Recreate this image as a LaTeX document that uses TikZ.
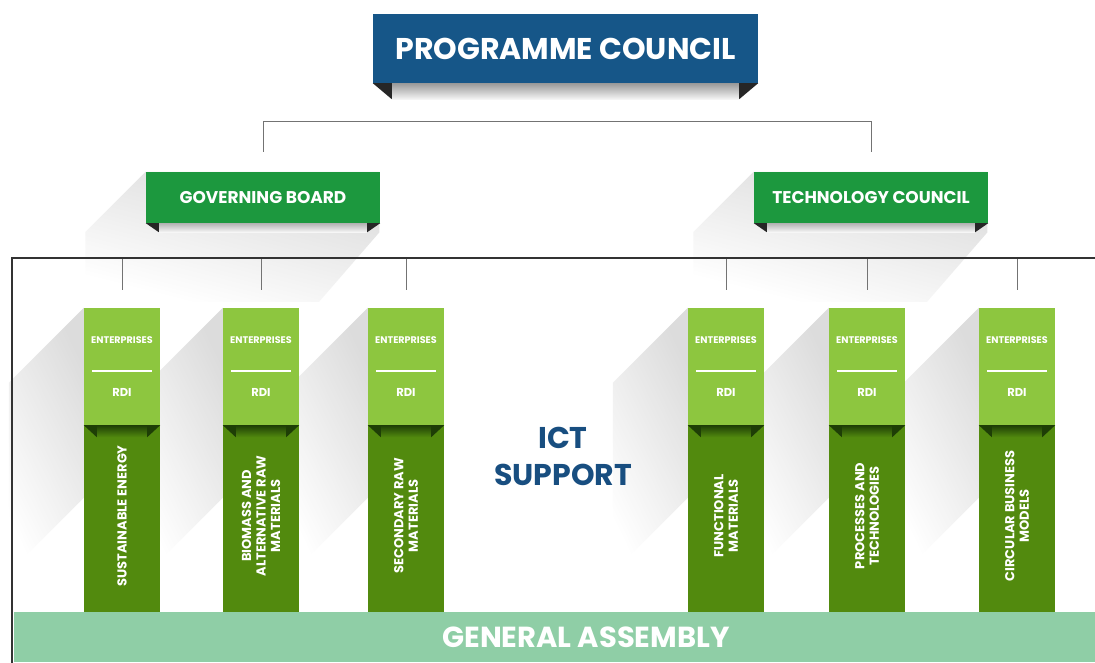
\documentclass[tikz,border=0pt]{standalone}
\usepackage{fontspec}
\setmainfont{Poppins}
\usetikzlibrary{positioning,fadings}
\pgfdeclarelayer{background}
\pgfsetlayers{background,main}
\definecolor{pcblue}{RGB}{22,86,136}
\definecolor{hdgreen}{RGB}{28,152,62}
\definecolor{entgreen}{RGB}{141,198,63}
\definecolor{fieldgreen}{RGB}{82,138,14}
\definecolor{foldgreen}{RGB}{30,62,6}
\definecolor{folddark}{RGB}{38,38,38}
\definecolor{bandgreen}{RGB}{143,206,166}
\definecolor{ictblue}{RGB}{24,78,128}
\tikzfading[name=shfade, top color=transparent!55, middle color=transparent!85, bottom color=transparent!100]

\begin{document}
\begin{tikzpicture}[x=1pt, y=-1pt,
  every node/.style={inner sep=0pt, text=white, font=\bfseries},
  council/.style={fill=pcblue, minimum width=385pt, minimum height=69pt, font=\bfseries\fontsize{30}{32}\selectfont},
  board/.style={fill=hdgreen, minimum width=234pt, minimum height=51pt, font=\bfseries\fontsize{17}{19}\selectfont},
  entbox/.style={fill=entgreen, minimum width=76pt, minimum height=117pt},
  fieldbox/.style={fill=fieldgreen, minimum width=76pt, minimum height=187pt},
  fieldtext/.style={rotate=90, align=center, font=\bfseries\fontsize{13}{14.5}\selectfont},
  enttext/.style={font=\bfseries\fontsize{9.6}{11}\selectfont},
  rditext/.style={font=\bfseries\fontsize{11.5}{12}\selectfont},
  link/.style={draw=black!55, line width=0.9pt},
  frameline/.style={draw=black!80, line width=1.3pt},
  shadowpart/.style={fill=black!30, path fading=shfade, fading angle=-30}]
  \useasboundingbox (0,0) rectangle (1095,662);

  % councils and boards
  \node [council] (pc) at (565.5,48.5) {PROGRAMME COUNCIL};
  \node [board] (gb) at (263,197.5) {GOVERNING BOARD};
  \node [board] (tc) at (871,197.5) {TECHNOLOGY COUNCIL};

  % general assembly
  \node [fill=bandgreen, minimum width=1081pt, minimum height=50pt] (ga) at (554.5,637) {};
  \node [font=\bfseries\fontsize{29}{31}\selectfont] (gatext) at (586,637) {GENERAL ASSEMBLY};

  % working groups
  \node [entbox] (e1) at (122,366.5) {};
  \node [fieldbox, below=0pt of e1] (f1) {};
  \node [entbox] (e2) at (261,366.5) {};
  \node [fieldbox, below=0pt of e2] (f2) {};
  \node [entbox] (e3) at (406,366.5) {};
  \node [fieldbox, below=0pt of e3] (f3) {};
  \node [entbox] (e4) at (726,366.5) {};
  \node [fieldbox, below=0pt of e4] (f4) {};
  \node [entbox] (e5) at (867,366.5) {};
  \node [fieldbox, below=0pt of e5] (f5) {};
  \node [entbox] (e6) at (1017,366.5) {};
  \node [fieldbox, below=0pt of e6] (f6) {};

  \node [fieldtext] at ([yshift=3pt]f1.center) {SUSTAINABLE ENERGY};
  \node [fieldtext] at ([yshift=3pt]f2.center) {BIOMASS AND\\ALTERNATIVE RAW\\MATERIALS};
  \node [fieldtext] at ([yshift=3pt]f3.center) {SECONDARY RAW\\MATERIALS};
  \node [fieldtext] at ([yshift=3pt]f4.center) {FUNCTIONAL\\MATERIALS};
  \node [fieldtext] at ([yshift=3pt]f5.center) {PROCESSES AND\\TECHNOLOGIES};
  \node [fieldtext] at ([yshift=3pt]f6.center) {CIRCULAR BUSINESS\\MODELS};

  \node [text=ictblue, align=center, font=\bfseries\fontsize{30}{37}\selectfont] (ict) at (563,456) {ICT\\SUPPORT};

  \foreach \i in {1,...,6} {
    \node [enttext] at ([yshift=-32pt]e\i.north) {ENTERPRISES};
    \draw [white, line width=1.8pt] ([xshift=8pt,yshift=-63pt]e\i.north west) -- ([xshift=-8pt,yshift=-63pt]e\i.north east);
    \node [rditext] at ([yshift=-85pt]e\i.north) {RDI};
    % ribbon fold
    \shade [top color=foldgreen, bottom color=fieldgreen] ([xshift=13pt]f\i.north west) rectangle ([xshift=-13pt,yshift=-12pt]f\i.north east);
    \fill [foldgreen] (f\i.north west) -- ++(13,0) -- ++(0,12) -- cycle;
    \fill [foldgreen] (f\i.north east) -- ++(-13,0) -- ++(0,12) -- cycle;
    \draw [link] ([yshift=18pt]e\i.north) -- ++(0,-32);
  }

  % folds under the headers
  \shade [top color=black!40, bottom color=black!4] ([xshift=19pt]pc.south west) rectangle ([xshift=-19pt,yshift=-16pt]pc.south east);
  \fill [folddark] (pc.south west) -- ++(19,0) -- ++(0,16) -- cycle;
  \fill [folddark] (pc.south east) -- ++(-19,0) -- ++(0,16) -- cycle;
  \foreach \b in {gb,tc} {
    \shade [top color=black!30, bottom color=black!3] ([xshift=13pt]\b.south west) rectangle ([xshift=-13pt,yshift=-9pt]\b.south east);
    \fill [folddark] (\b.south west) -- ++(13,0) -- ++(0,9) -- cycle;
    \fill [folddark] (\b.south east) -- ++(-13,0) -- ++(0,9) -- cycle;
  }

  % connectors and frame
  \draw [link] ([yshift=20pt]gb.north) -- ++(0,-30) -| ([yshift=20pt]tc.north);
  \draw [frameline] (1100,258) -- (12,258) -- (12,663);

  \begin{pgfonlayer}{background}
    \fill [white] (0,0) rectangle (1095,662);
    \fill [shadowpart] (gb.north west) -- ++(-60,60) -- ++(0,70) -- ++(234,0) -- ([yshift=-9pt]gb.south east) -- (gb.north east) -- cycle;
    \fill [shadowpart] (tc.north west) -- ++(-60,60) -- ++(0,70) -- ++(234,0) -- ([yshift=-9pt]tc.south east) -- (tc.north east) -- cycle;
    \foreach \i in {1,...,6}
      \fill [shadowpart] (e\i.north west) -- ++(-75,75) -- ++(0,190) -- ++(75,-75) -- cycle;
  \end{pgfonlayer}
\end{tikzpicture}
\end{document}
